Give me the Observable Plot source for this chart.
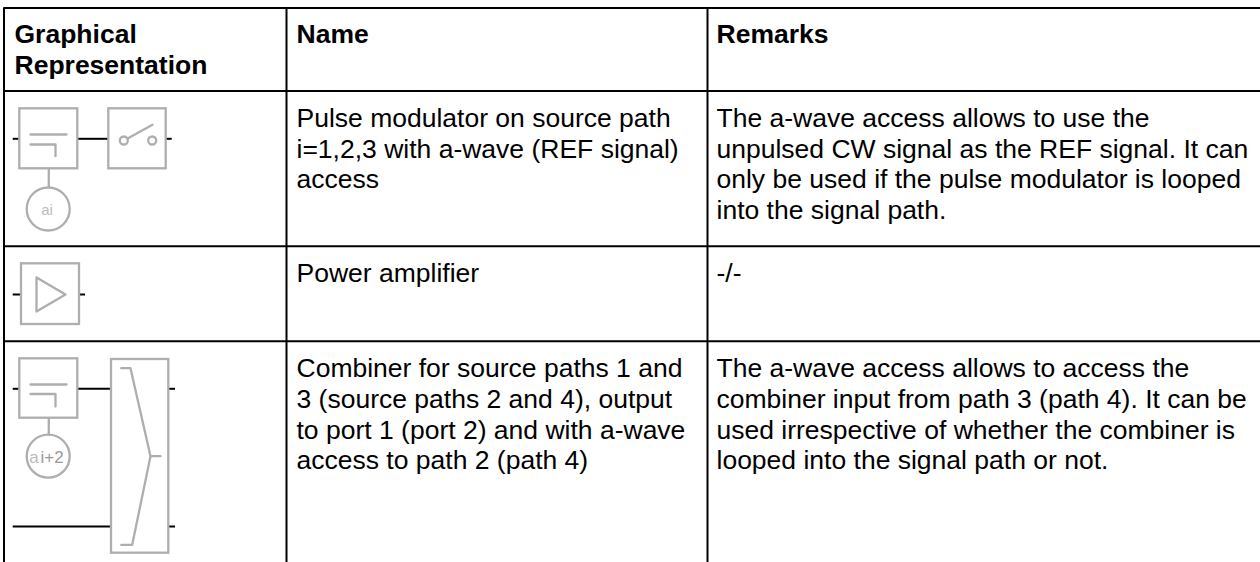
<!DOCTYPE html>
<html>
<head>
<meta charset="utf-8">
<script src="https://cdn.jsdelivr.net/npm/d3@7"></script>
<script src="https://cdn.jsdelivr.net/npm/@observablehq/plot@0.6"></script>
<style>
html,body{margin:0;padding:0;background:#fff;overflow:hidden}
g[aria-label="ai-label"] text{letter-spacing:2.5px}
</style>
</head>
<body>
<div id="chart"></div>
<script>
// Table grid
const gridColumns = [3.5, 286, 707];
const gridRows = [7.5, 90.5, 245.7, 340.7];
const gridTop = 7.5, gridBottom = 562, gridRight = 1260;

// Table text: [column x, baseline y, text]
const headerText = [
  [14, 42.5, "Graphical"], [14, 73, "Representation"],
  [296, 42.5, "Name"], [716, 42.5, "Remarks"]
];
const bodyText = [
  [296, 126.3, "Pulse modulator on source path"],
  [296, 157, "i=1,2,3 with a-wave (REF signal)"],
  [296, 187.7, "access"],
  [716, 126.3, "The a-wave access allows to use the"],
  [716, 157, "unpulsed CW signal as the REF signal. It can"],
  [716, 187.7, "only be used if the pulse modulator is looped"],
  [716, 218.3, "into the signal path."],
  [296, 281.7, "Power amplifier"],
  [716, 281.7, "-/-"],
  [296, 376.7, "Combiner for source paths 1 and"],
  [296, 407.3, "3 (source paths 2 and 4), output"],
  [296, 438, "to port 1 (port 2) and with a-wave"],
  [296, 468.7, "access to path 2 (path 4)"],
  [716, 376.7, "The a-wave access allows to access the"],
  [716, 407.3, "combiner input from path 3 (path 4). It can be"],
  [716, 438, "used irrespective of whether the combiner is"],
  [716, 468.7, "looped into the signal path or not."]
];

// Symbols: boxes [x1, y1, x2, y2]
const boxes = [
  [19.3, 108.3, 77.3, 168.3],
  [108.3, 108.3, 165.7, 168.3],
  [21, 263.3, 79, 324],
  [19.3, 358.3, 77.3, 417.7],
  [111, 359, 168.3, 552.7]
];
// Black signal wires [x1, y, x2]
const wires = [
  [12.7, 138.3, 19.3], [77.3, 138.3, 108.3], [165.7, 138.3, 171.7],
  [12.7, 294, 21], [79, 294, 85],
  [12.7, 388.3, 19.3], [77.3, 388.3, 111], [168.3, 388.3, 175],
  [12.7, 526, 111], [168.3, 526, 175]
];
// Gray symbol strokes, one list of [x, y] per stroke
const strokes = [
  [[30, 134], [66, 134]],
  [[30, 144], [55, 144], [55, 155.7]],
  [[48.3, 168.3], [48.3, 187]],
  [[128, 137.5], [152, 124.3]],
  [[36, 277], [65, 294], [36, 311], [36, 277]],
  [[30, 384], [66, 384]],
  [[30, 393.5], [55, 393.5], [55, 406]],
  [[48.3, 417.7], [48.3, 434]],
  [[120.7, 367.7], [130, 367.7], [150, 455.7], [131.7, 544.3], [120.7, 544.3]],
  [[150, 455.7], [160, 455.7]]
];
const portCircles = [[47.7, 208.5], [47.7, 455.7]];
const switchCircles = [[123.3, 140], [151.7, 140]];

const gray = "#aeaeae";
const grayWidth = 2.3;
const font = "Liberation Sans";
const fontSize = 26.5;
const strokePoints = strokes.flatMap((s, i) => s.map(([x, y]) => ({x, y, i})));

const chart = Plot.plot({
  width: 1260, height: 562,
  margin: 0,
  x: {domain: [0, 1260], axis: null},
  y: {domain: [562, 0], axis: null},
  style: {background: "#fff", fontFamily: font},
  marks: [
    Plot.ruleY(gridRows, {x1: gridColumns[0], x2: gridRight, stroke: "#000", strokeWidth: 2}),
    Plot.ruleX(gridColumns, {y1: gridTop, y2: gridBottom, stroke: "#000", strokeWidth: 2}),
    Plot.ruleY(wires, {x1: d => d[0], y: d => d[1], x2: d => d[2], stroke: "#000", strokeWidth: 2}),
    Plot.rect(boxes, {x1: d => d[0], y1: d => d[1], x2: d => d[2], y2: d => d[3], fill: "#fff", stroke: gray, strokeWidth: grayWidth}),
    Plot.line(strokePoints, {x: "x", y: "y", z: "i", stroke: gray, strokeWidth: grayWidth, curve: "linear"}),
    Plot.dot(portCircles, {x: d => d[0], y: d => d[1], r: 21.5, stroke: gray, strokeWidth: grayWidth, fill: "#fff"}),
    Plot.dot(switchCircles, {x: d => d[0], y: d => d[1], r: 4, stroke: gray, strokeWidth: grayWidth, fill: "#fff"}),
    Plot.text(["ai"], {x: 46.5, y: 214.5, text: d => d, fontSize: 15, fill: "#bbb", textAnchor: "middle", lineAnchor: "bottom", ariaLabel: "ai-label"}),
    Plot.text(["a"], {x: 33.5, y: 462, text: d => d, fontSize: 17, fill: "#bbb", textAnchor: "middle", lineAnchor: "bottom"}),
    Plot.text(["i+2"], {x: 51.5, y: 462, text: d => d, fontSize: 17, fill: "#999", textAnchor: "middle", lineAnchor: "bottom"}),
    Plot.text(headerText, {x: d => d[0], y: d => d[1], text: d => d[2], fontSize, fontWeight: "bold", fill: "#000", textAnchor: "start", lineAnchor: "bottom"}),
    Plot.text(bodyText, {x: d => d[0], y: d => d[1], text: d => d[2], fontSize, fill: "#000", textAnchor: "start", lineAnchor: "bottom"})
  ]
});
document.getElementById("chart").append(chart);
</script>
</body>
</html>
